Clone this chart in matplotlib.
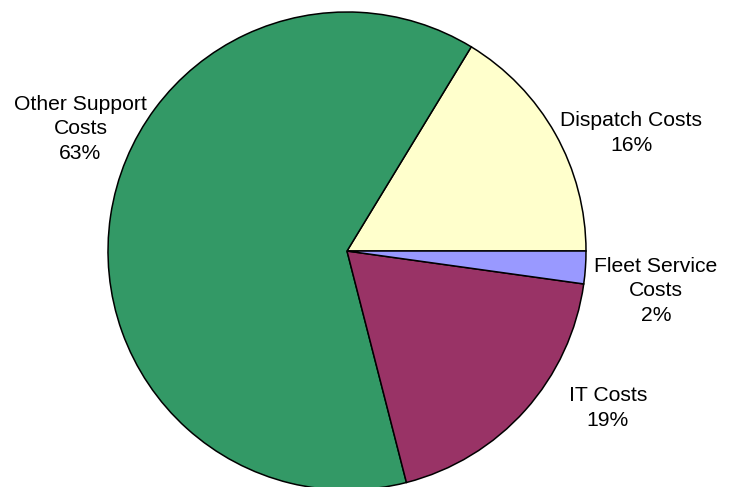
import matplotlib.pyplot as plt

plt.rcParams['font.family'] = ['Liberation Sans', 'DejaVu Sans']

# slice data, counter-clockwise from 3 o'clock
names = ['Dispatch Costs', 'Other Support\nCosts', 'IT Costs', 'Fleet Service\nCosts']
values = [16.3, 62.7, 18.8, 2.2]
colors = ['#FFFFCC', '#339966', '#993366', '#9999FF']

# label anchor points (pixel coords, y from top)
label_pos = [(631.5, 133), (80.5, 129), (608, 408), (656, 291)]

fig = plt.figure(figsize=(7.35, 4.87), dpi=100)
ax = fig.add_axes([0, 0, 1, 1])

ax.pie(values, colors=colors, startangle=0, counterclock=True,
       center=(347, 487 - 251), radius=239, frame=True,
       wedgeprops=dict(edgecolor='black', linewidth=1.1))
ax.set_xlim(0, 735)
ax.set_ylim(0, 487)
ax.set_aspect('equal')
ax.axis('off')

total = sum(values)
for name, v, (x, y) in zip(names, values, label_pos):
    ax.text(x, 487 - y, f"{name}\n{v / total * 100:.0f}%", ha='center', va='center',
            fontsize=15.2, linespacing=1.35)

fig.savefig('out.png', dpi=100)
